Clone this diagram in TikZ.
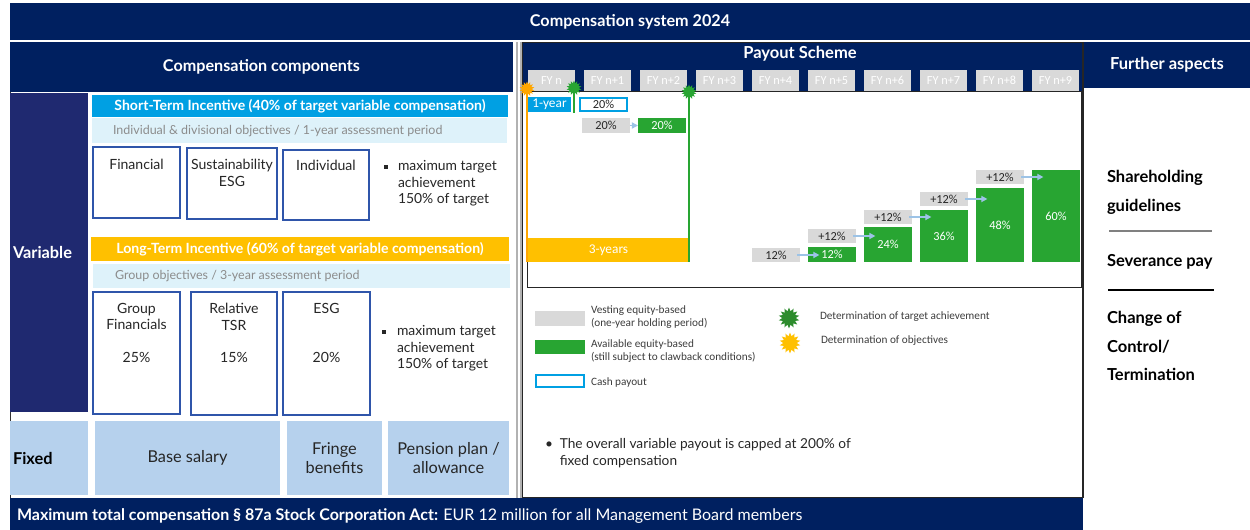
\documentclass[tikz,border=0pt]{standalone}
\usepackage{fontspec}
\setmainfont{Lato}
\newfontfamily\chartfont{Carlito}
\usetikzlibrary{arrows.meta, positioning, shapes.geometric}

\definecolor{csnavy}{RGB}{0,32,96}
\definecolor{csindigo}{RGB}{31,41,112}
\definecolor{cscyan}{RGB}{0,160,227}
\definecolor{cslightcyan}{RGB}{222,242,250}
\definecolor{csamber}{RGB}{255,192,0}
\definecolor{csorange}{RGB}{255,166,0}
\definecolor{csfixed}{RGB}{182,209,237}
\definecolor{csframe}{RGB}{47,85,170}
\definecolor{csgrey}{RGB}{217,217,217}
\definecolor{csgreen}{RGB}{40,165,50}
\definecolor{csdarkgreen}{RGB}{45,140,45}
\definecolor{csarrow}{RGB}{157,195,230}
\definecolor{cstext}{RGB}{38,38,38}
\definecolor{cssubtext}{RGB}{140,140,140}

\newcommand{\fsz}[2]{\fontsize{#1}{#2}\selectfont}

\tikzset{
  sz/.style 2 args={minimum width=#1*0.02cm, minimum height=#2*0.02cm},
  cell/.style={inner sep=0pt, outer sep=0pt},
  navybar/.style={cell, fill=csnavy},
  headtxt/.style={text=white, font=\bfseries\fsz{9.2}{11}},
  incbar/.style={cell, text=white, font=\bfseries\fsz{8}{9}},
  subbar/.style={cell, fill=cslightcyan},
  subtxt/.style={cell, text=cssubtext, font=\fsz{7.1}{8}, anchor=west},
  objbox/.style={cell, draw=csframe, line width=0.6pt},
  objtxt/.style={cell, text=cstext, font=\fsz{8}{9.2}, align=center, anchor=north},
  bullettxt/.style={cell, text=cstext, font=\fsz{7.9}{9.4}, align=left, anchor=north west},
  sqbullet/.style={cell, fill=cstext, minimum size=0.07cm},
  fixcell/.style={cell, fill=csfixed, text=cstext, font=\fsz{9.3}{10.8}, align=center},
  sidelabel/.style={cell, text width=1.44cm, align=left, font=\bfseries\fsz{9.3}{11}},
  fycell/.style={cell, fill=csgrey, text=white, font=\chartfont\fsz{7}{8}, sz={47}{21}},
  vest/.style={cell, fill=csgrey, text=cstext, font=\chartfont\fsz{7}{8}},
  avail/.style={cell, fill=csgreen, text=white, font=\chartfont\fsz{7}{8}},
  flow/.style={draw=csarrow, line width=0.8pt, -{Triangle[length=3.5pt, width=3.5pt]}},
  stair/.style={shorten <=-1.5pt, shorten >=-6.5pt},
  burst/.style={star, star points=14, star point ratio=1.55, inner sep=0pt, minimum size=0.3cm},
  legtxt/.style={cell, text=cstext!90, font=\chartfont\fsz{6.4}{7.1}, align=left, anchor=west},
  asptxt/.style={cell, text=black, font=\bfseries\fsz{9.4}{16.4}, align=left, anchor=west},
}

\begin{document}
\begin{tikzpicture}[x=0.02cm, y=-0.02cm]
  \useasboundingbox (0,0) rectangle (1250,530);

  % Title bar
  \node[navybar, sz={1240}{37}, headtxt] (title) at (630,21.5) {Compensation system 2024};

  % LEFT PANEL: compensation components
  \node[navybar, sz={503}{50}, headtxt] (comphead) at (261.5,67) {Compensation components};
  \draw[black!80, line width=0.5pt] (10,92) -- (10,498);
  \node[sidelabel, fill=csindigo, sz={78}{319}, text=white] (variable) at (49,252.5) {Variable};

  % Short-term incentive
  \node[incbar, fill=cscyan, sz={416}{22}] (sti) at (300,106)
    {Short-Term Incentive (40\% of target variable compensation)};
  \node[subbar, sz={415}{25}] (stisub) at (299.5,130.5) {};
  \node[subtxt] (stisubtxt) at (113,131)
    {Individual \& divisional objectives / 1-year assessment period};
  \node[objbox, sz={87}{71}] (fin) at (136.5,182.5) {};
  \node[objtxt] (fintxt) at (136.5,159.5) {Financial};
  \node[objbox, sz={90}{71}] (sust) at (232,183.5) {};
  \node[objtxt] (susttxt) at (232,159.5) {Sustainability\\ESG};
  \node[objbox, sz={86}{70}] (indiv) at (326,185) {};
  \node[objtxt] (indivtxt) at (326,160.5) {Individual};
  \node[sqbullet] (stibul) at (386,167) {};
  \node[bullettxt] (stinote) at (398,160.5) {maximum target\\achievement\\150\% of target};

  % Long-term incentive
  \node[incbar, fill=csamber, sz={418}{24}] (lti) at (300,249)
    {Long-Term Incentive (60\% of target variable compensation)};
  \node[subbar, sz={417}{24}] (ltisub) at (301.5,276) {};
  \node[subtxt] (ltisubtxt) at (115,276) {Group objectives / 3-year assessment period};
  \node[objbox, sz={87}{122}] (gfin) at (136.5,353) {};
  \node[objtxt] (gfintxt) at (136.5,303.5) {Group\\Financials};
  \node[objtxt, anchor=center] (gfinpct) at (136.5,357) {25\%};
  \node[objbox, sz={86}{123}] (tsr) at (234,353.5) {};
  \node[objtxt] (tsrtxt) at (234,303.5) {Relative\\TSR};
  \node[objtxt, anchor=center] (tsrpct) at (234,357) {15\%};
  \node[objbox, sz={87}{123}] (esg) at (326.5,353.5) {};
  \node[objtxt] (esgtxt) at (326.5,303.5) {ESG};
  \node[objtxt, anchor=center] (esgpct) at (326.5,357) {20\%};
  \node[sqbullet] (ltibul) at (384,332) {};
  \node[bullettxt] (ltinote) at (397,325.5) {maximum target\\achievement\\150\% of target};

  % Fixed row
  \node[sidelabel, fill=csfixed, sz={78}{74}, text=black] (fixed) at (49,458) {Fixed};
  \node[fixcell, sz={185}{74}] (base) at (187.5,458) {Base salary};
  \node[fixcell, sz={95}{74}] (fringe) at (334.5,458) {Fringe\\benefits};
  \node[fixcell, sz={121}{74}] (pension) at (448.5,458) {Pension plan /\\allowance};

  % Bottom bar
  \node[navybar, sz={1073}{32}] (maxbar) at (546.5,514) {};
  \node[cell, anchor=west, text=white, font=\fsz{9.1}{10}] (maxtxt) at (17,516)
    {\textbf{Maximum total compensation § 87a Stock Corporation Act:} EUR 12 million for all Management Board members};

  % MIDDLE PANEL: payout scheme
  \draw[gray!60, line width=0.8pt] (517,42) -- (517,498);
  \draw[gray!60, line width=0.8pt] (521,42) -- (521,498);
  \node[navybar, sz={560}{49}] (payhead) at (802,66.5) {};
  \node[cell, headtxt, font=\bfseries\fsz{9.4}{10}] (paytitle) at (800,54) {Payout Scheme};
  \draw[black!85, line width=0.5pt] (522,42) rectangle (1082,497);
  \draw[black!85, line width=0.5pt] (527,91) rectangle (1081,287);
  \foreach \i in {0,...,9}
    \node[fycell] (fy\i) at (551.5+56*\i,80.5) {FY n\ifnum\i>0 +\i\fi};

  % Short-term: one year
  \node[cell, fill=cscyan, text=white, font=\chartfont\fsz{7.6}{8}, sz={43}{15}] (oneyr) at (549.5,104.5) {1-year};
  \node[cell, draw=cscyan, line width=1.2pt, fill=white, text=cstext,
        font=\chartfont\fsz{7}{8}, sz={47}{13}] (cash) at (603.5,104.5) {20\%};
  \node[vest, sz={48}{15}] (v1) at (606,125.5) {20\%};
  \node[avail, sz={48}{15}] (a2) at (662,125.5) {20\%};
  \draw[flow] (v1) -- (a2);

  % Long-term: three years
  \node[cell, fill=csamber, text=white, font=\chartfont\fsz{7.6}{8}, sz={163}{24}] (threeyr) at (608.5,250) {3-years};

  % Milestones
  \node[burst, fill=csorange] (objn) at (527,89) {};
  \coordinate (objnend) at (527,262);
  \draw[csorange, line width=1.4pt] (objn.center) -- (objnend);
  \node[burst, fill=csgreen] (tgtone) at (574,88) {};
  \coordinate (tgtoneend) at (574,113);
  \draw[csgreen, line width=1.4pt] (tgtone.center) -- (tgtoneend);
  \node[burst, fill=csgreen] (tgtthree) at (689,92) {};
  \coordinate (tgtthreeend) at (689,262);
  \draw[csgreen, line width=1.4pt] (tgtthree.center) -- (tgtthreeend);

  % Vesting staircase
  \node[vest, sz={48}{14}] (v4) at (776,255) {12\%};
  \node[avail, sz={48}{15}] (a5) at (832,254.5) {12\%};
  \node[vest, sz={48}{14}] (v5) at (832,236) {+12\%};
  \node[avail, sz={48}{35}] (a6) at (888,244.5) {24\%};
  \node[vest, sz={48}{14}] (v6) at (888,217) {+12\%};
  \node[avail, sz={48}{52}] (a7) at (944,236) {36\%};
  \node[vest, sz={48}{14}] (v7) at (944,199) {+12\%};
  \node[avail, sz={48}{74}] (a8) at (1000,225) {48\%};
  \node[vest, sz={48}{14}] (v8) at (1000,177) {+12\%};
  \node[avail, sz={48}{92}] (a9) at (1056,216) {60\%};
  \draw[flow, stair] (v4.east) -- (a5.west |- v4.east);
  \draw[flow, stair] (v5.east) -- (a6.west |- v5.east);
  \draw[flow, stair] (v6.east) -- (a7.west |- v6.east);
  \draw[flow, stair] (v7.east) -- (a8.west |- v7.east);
  \draw[flow, stair] (v8.east) -- (a9.west |- v8.east);

  % Legend
  \node[vest, sz={50}{15}] (legvest) at (560,318) {};
  \node[legtxt] (legvesttxt) at (591,317) {Vesting equity-based\\(one-year holding period)};
  \node[avail, sz={50}{14}] (legavail) at (560,347) {};
  \node[legtxt] (legavailtxt) at (591,351) {Available equity-based\\(still subject to clawback conditions)};
  \node[cell, draw=cscyan, line width=1pt, sz={48}{12}] (legcash) at (560,381) {};
  \node[legtxt] (legcashtxt) at (591,382) {Cash payout};
  \node[burst, fill=csdarkgreen, minimum size=0.42cm] (legtgt) at (789,318) {};
  \node[legtxt] (legtgttxt) at (820,317) {Determination of target achievement};
  \node[burst, fill=csamber, minimum size=0.42cm] (legobj) at (790,343) {};
  \node[legtxt] (legobjtxt) at (821,341) {Determination of objectives};

  \node[cell, anchor=west, font=\fsz{7.8}{9.6}, align=left, text=cstext] (capnote) at (545,453.5)
    {\textbullet\hspace{0.5em}The overall variable payout is capped at 200\% of\\
     \hphantom{\textbullet\hspace{0.5em}}fixed compensation};

  % RIGHT PANEL: further aspects
  \node[navybar, sz={166}{46}, headtxt, font=\bfseries\fsz{9.4}{10}] (furhead) at (1167,65) {Further aspects};
  \draw[black!85, line width=0.5pt] (1083,42) -- (1083,498);
  \node[asptxt] (share) at (1107,192.5) {Shareholding\\guidelines};
  \draw[gray, line width=0.8pt] (1109,231) -- (1212,231);
  \node[asptxt] (sever) at (1107,262) {Severance pay};
  \draw[black, line width=0.7pt] (1108,290) -- (1214,290);
  \node[asptxt] (coc) at (1107,346) {Change of\\Control/\\Termination};
\end{tikzpicture}
\end{document}
